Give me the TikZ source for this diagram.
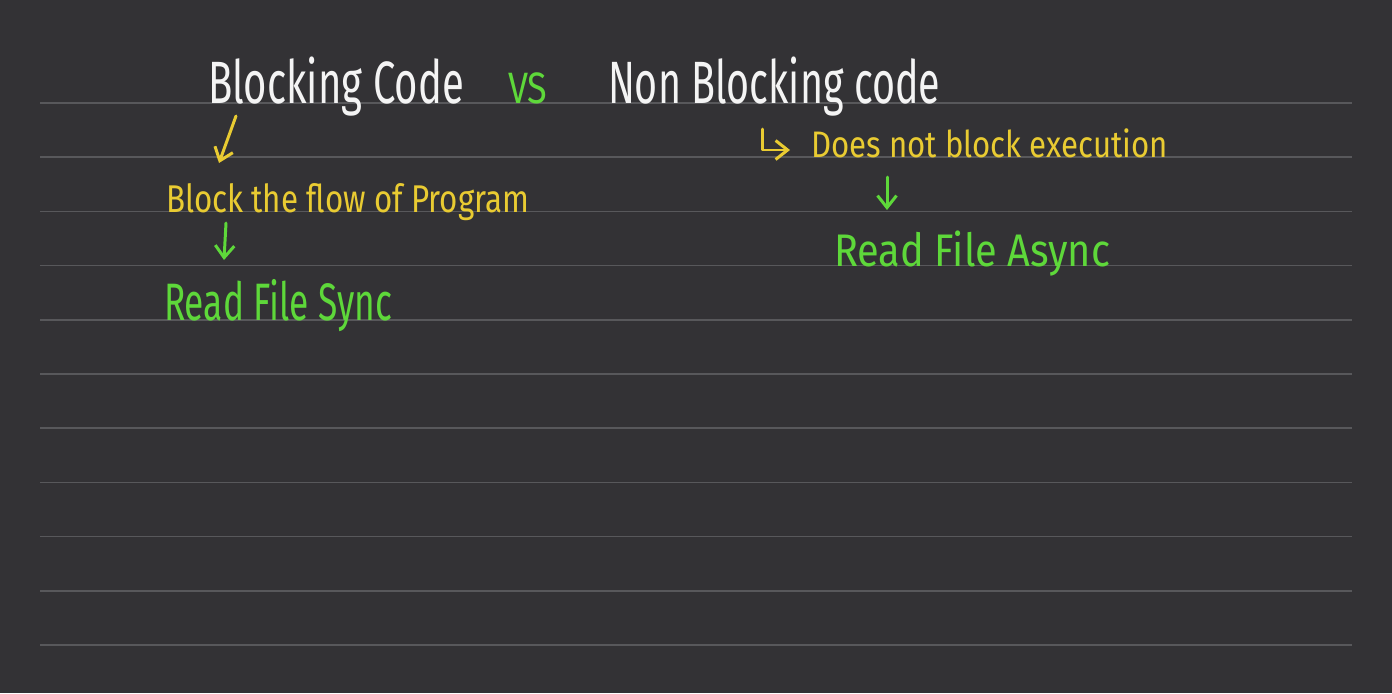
\documentclass[tikz,border=0pt]{standalone}
\usepackage{fontspec}
\usepackage{graphicx}
\setmainfont{Fira Sans}
\usetikzlibrary{arrows.meta, positioning}
\definecolor{cboard}{HTML}{333235}
\definecolor{crule}{HTML}{58585B}
\definecolor{cchalk}{HTML}{F4F4F4}
\definecolor{cyellow}{HTML}{E9CB32}
\definecolor{cgreen}{HTML}{5ED83A}
% squeeze handwriting horizontally, keep the baseline
\newcommand{\inkbox}[2]{\scalebox{#1}[1]{#2}}
\tikzset{
  every picture/.style={x=0.02cm, y=-0.02cm, line width=1.2pt},
  ink/.style={text=#1, anchor=base west, inner sep=0pt},
  ink/.default=cchalk,
  pt/.style={font=\fontsize{#1}{#1}\selectfont},
  rule/.style={draw=crule, line width=1pt},
  pen/.style={-{Straight Barb[length=2.4mm, width=3.8mm]}, draw=#1, line width=1.7pt, line cap=round, line join=round},
}

\begin{document}
\begin{tikzpicture}
  \fill[cboard] (0,0) rectangle (1392,693);
  \useasboundingbox (0,0) rectangle (1392,693);
  % ruled paper
  \foreach \r in {0,...,10}
    \draw[rule] (40,{103+54.2*\r}) -- (1352,{103+54.2*\r});
  % headings
  \node[ink, pt=34] (blocking) at (207,103) {\inkbox{0.67}{Blocking Code}};
  \node[ink=cgreen, pt=25] (vs) at (507,103) {\inkbox{0.82}{VS}};
  \node[ink, pt=34] (nonblocking) at (607,103) {\inkbox{0.66}{Non Blocking code}};
  % left column
  \node[ink=cyellow, pt=22] (flow) at (165,212) {\inkbox{0.81}{Block the flow of Program}};
  \node[ink=cgreen, pt=30] (sync) at (163,320) {\inkbox{0.67}{Read File Sync}};
  % right column
  \node[ink=cyellow, pt=21] (noblock) at (810,157) {\inkbox{0.845}{Does not block execution}};
  \node[ink=cgreen, pt=26] (async) at (833,266) {\inkbox{0.87}{Read File Async}};
  % arrows
  \coordinate (blocking-out) at (236,116);
  \coordinate (flow-in) at (219,163);
  \coordinate (flow-out) at (226,223);
  \coordinate (sync-in) at (224,260);
  \coordinate (hook-top) at (762,129);
  \coordinate (hook-end) at (790,150);
  \coordinate (noblock-out) at (887,177);
  \coordinate (async-in) at (887,210);
  \draw[pen=cyellow] (blocking-out) -- (flow-in);
  \draw[pen=cgreen] (flow-out) -- (sync-in);
  \draw[pen=cyellow] (hook-top) -- (762,150) -- (hook-end);
  \draw[pen=cgreen] (noblock-out) -- (async-in);
\end{tikzpicture}
\end{document}
